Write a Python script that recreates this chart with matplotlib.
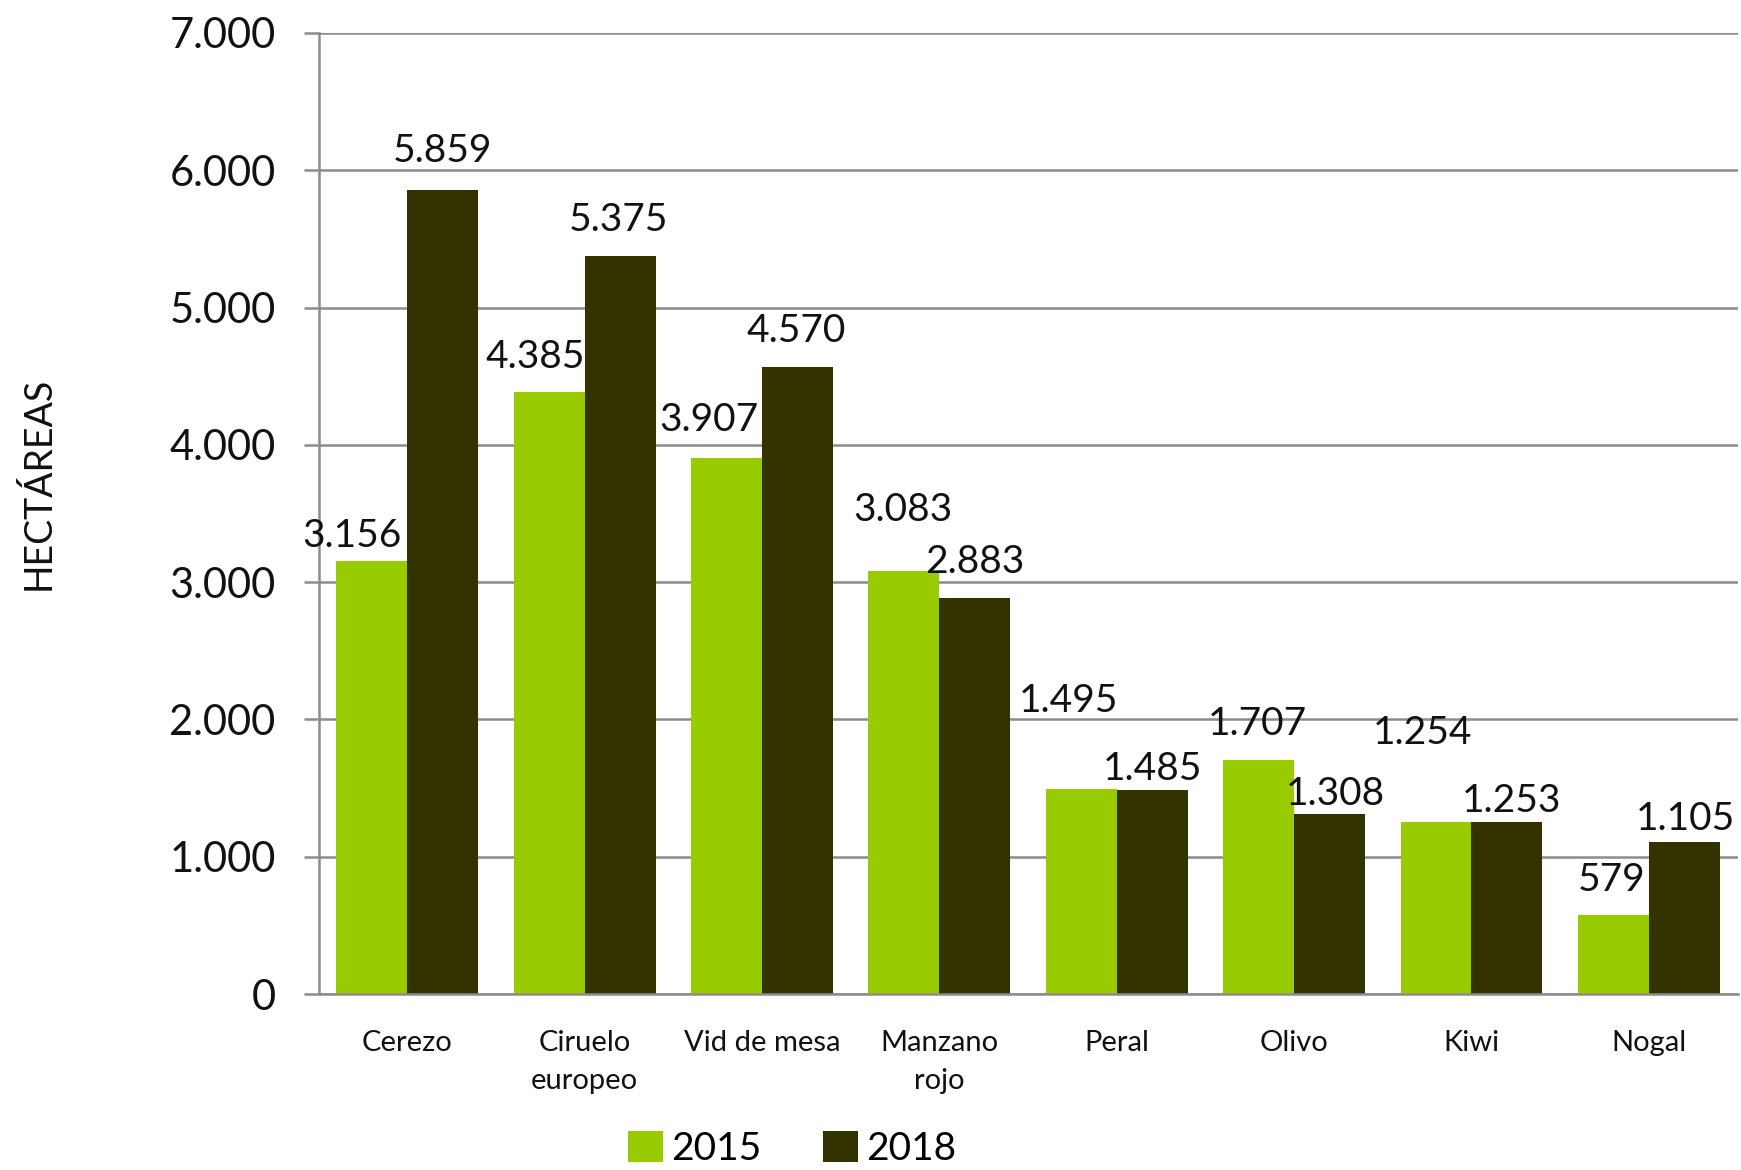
import matplotlib
matplotlib.use("Agg")
import matplotlib.pyplot as plt
from matplotlib.ticker import FuncFormatter, MultipleLocator

categories = ["Cerezo", "Ciruelo\neuropeo", "Vid de mesa", "Manzano\nrojo",
              "Peral", "Olivo", "Kiwi", "Nogal"]
series_names = ["2015", "2018"]
values_2015 = [3156, 4385, 3907, 3083, 1495, 1707, 1254, 579]
values_2018 = [5859, 5375, 4570, 2883, 1485, 1308, 1253, 1105]

# label offsets (points) relative to bar top centre, mimicking the original placement
off_2015 = [(-14, 18), (-10, 25), (-13, 27), (-1, 44), (-9, 63), (-1, 26), (-10, 64), (-1, 25)]
off_2018 = [(0, 28), (-1, 26), (-1, 26), (0, 26), (0, 15), (4, 15), (3, 15), (1, 17)]

colors = ["#99CC00", "#333300"]
grid_c = "#8C8C8C"
FONT = "Lato"
W = "normal"

fig = plt.figure(figsize=(17.41, 11.70), dpi=100)
ax = fig.add_axes([0.183, 0.1504, 0.815, 0.8214])

x = list(range(len(categories)))
w = 0.4
b1 = ax.bar([i - w / 2 for i in x], values_2015, width=w, color=colors[0],
            label=series_names[0], zorder=3)
b2 = ax.bar([i + w / 2 for i in x], values_2018, width=w, color=colors[1],
            label=series_names[1], zorder=3)

def fmt(v):
    return f"{v:,.0f}".replace(",", ".")

for bars, vals, offs in ((b1, values_2015, off_2015), (b2, values_2018, off_2018)):
    for r, v, (dx, dy) in zip(bars, vals, offs):
        ax.annotate(fmt(v), (r.get_x() + r.get_width() / 2, v),
                    xytext=(dx, dy), textcoords="offset points",
                    ha="center", va="center", fontsize=28, family=FONT,
                    weight=W, color="#111111", zorder=4)

ax.set_xlim(-0.5, len(categories) - 0.5)
ax.set_ylim(0, 7000)
ax.yaxis.set_major_locator(MultipleLocator(1000))
ax.yaxis.set_major_formatter(FuncFormatter(lambda v, p: fmt(v)))
ax.set_xticks(x)
ax.set_xticklabels(categories, fontsize=21, family=FONT, weight=W, linespacing=1.55)
ax.tick_params(axis="x", length=0, pad=26, colors="#111111")
ax.tick_params(axis="y", length=11, width=1.8, color=grid_c, pad=20,
               labelsize=30, labelcolor="#111111")
for lab in ax.get_yticklabels():
    lab.set_family(FONT)
    lab.set_weight(W)

ax.grid(axis="y", color=grid_c, linewidth=1.8, zorder=0)
ax.set_axisbelow(True)
for s in ("top", "right"):
    ax.spines[s].set_visible(False)
for s in ("left", "bottom"):
    ax.spines[s].set_color(grid_c)
    ax.spines[s].set_linewidth(1.8)
ax.spines["bottom"].set_zorder(5)

fig.text(0.0224, 0.587, "HECTÁREAS", rotation=90, ha="center", va="center",
         fontsize=27, family=FONT, color="#111111")

leg = fig.legend(handles=[b1, b2], labels=series_names, loc="center",
                 bbox_to_anchor=(0.455, 0.018), ncol=2, frameon=False,
                 prop={"family": FONT, "size": 28, "weight": W}, handlelength=0.9,
                 handleheight=0.85, handletextpad=0.2, columnspacing=1.6,
                 borderpad=0, borderaxespad=0)

fig.savefig("out.png", dpi=100)
